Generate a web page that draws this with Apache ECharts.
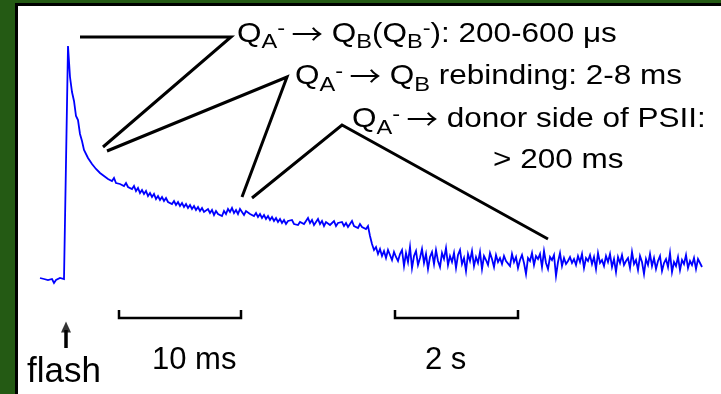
<!DOCTYPE html>
<html><head><meta charset="utf-8">
<script src="https://cdn.jsdelivr.net/npm/echarts@6/dist/echarts.min.js"></script>
<style>html,body{margin:0;padding:0;background:#245a14}#c{width:721px;height:394px}</style>
</head><body><div id="c"></div>
<script>
// Flash-induced signal (arbitrary units, pre-flash baseline ~0), one value per sample
const signal = [
 2,3,1,2,0,-1,1,-3,0,1,2,0,1,2,
 234,
 203,188,179,164,160,146,139,130,128,122,124,116,118,111,113,107,
 109,104,106,101,103,99,102,97,99,96,98,94,97,93,95,
 91,94,89,92,87,90,86,89,84,87,83,86,81,84,80,83,79,82,78,80,
 76,79,75,78,74,77,73,76,72,75,71,74,70,73,69,72,68,66,71,67,70,65,69,66,68,
 64,69,66,71,68,72,67,70,66,71,68,65,69,67,66,
 68,64,67,63,66,62,65,61,64,60,63,59,62,58,61,57,60,56,59,57,60,56,58,55,58,
 60,56,59,62,57,60,55,58,61,56,59,54,58,60,55,57,59,54,57,56,
 58,54,57,53,56,59,54,55,52,56,53,55,51,54,
 44,36,30,33,26,31,24,29,22,30,25,20,28,23,19,26,
 30,14,27,18,33,12,24,29,15,22,31,17,26,11,23,28,16,30,19,13,27,21,32,15,24,
 18,27,12,25,30,16,22,9,26,19,29,14,23,17,28,11,24,20,15,27,21,13,25,18,22,
 16,24,19,21,14,26,18,23,12,20,25,17,6,22,19,27,15,24,21,26,13,29,17,11,23,
 20,25,4,18,27,14,22,16,19,23,17,21,15,24,18,26,12,22,19,25,16,23,11,27,17,
 20,14,24,18,26,13,21,8,23,17,25,15,19,22,12,28,16,20,10,24,18,6,21,15,26,
 14,22,11,19,24,9,17,21,13,27,8,18,14,23,10,20,16,25,12,19,15,22,11,21,17,13
];
// Annotation pointer lines (sample index, signal units)
const pointerA = [[20,243],[95.5,243],[31.5,133]];
const pointerB = [[33.5,129],[123.5,203],[101,83]];
const pointerC = [[106,82],[151,155],[254,41]];
// Scale bars (sample index, signal units)
const bar10ms = [[39.5,-30],[39.5,-38],[100.5,-38],[100.5,-30]];
const bar2s = [[177.5,-30],[177.5,-38],[239,-38],[239,-30]];
const flashShaft = [[13,-68],[13,-50]];
const flashTip = [[13,-47]];

const labels1 = '{m|Q}{sub|A}{sup|-}{m|\u2009}{arr|\u2192}{m| Q}{sub|B}{m|(Q}{sub|B}{sup|-}{m|): 200-600 \u03bcs}';
const labels2 = '{m|Q}{sub|A}{sup|-}{m|\u2009}{arr|\u2192}{m| Q}{sub|B}{m| rebinding: 2-8 ms}';
const labels3 = '{m|Q}{sub|A}{sup|-}{m|\u2009}{arr|\u2192}{m| donor side of PSII:}';
const labels4 = '{m|> 200 ms}';

const FONT = '"Liberation Sans", Arial, sans-serif';
const rich = {
  m:   {fontSize:28, lineHeight:28, padding:[8,0,8,0], fontFamily:FONT, fill:'#000', color:'#000'},
  arr: {fontSize:28, lineHeight:28, padding:[8,0,8,0], fontFamily:'"Noto Sans CJK SC"', fill:'#000', color:'#000'},
  sub: {fontSize:21, lineHeight:21, padding:[20,0,3,0], fontFamily:FONT, fill:'#000', color:'#000'},
  sup: {fontSize:21, lineHeight:21, padding:[7,0,16,0], fontFamily:FONT, fill:'#000', color:'#000'}
};
function richText(txt, x, y){
  return {type:'text', x:x, y:y, z:100, scaleX:1.125, scaleY:1, style:{text:txt, rich:rich, fontFamily:FONT, fontSize:28, fill:'#000', verticalAlign:'top', align:'left'}};
}
function plainText(txt, x, baseline, size){
  return {type:'text', x:x, y:baseline - 0.3465*size, z:100, style:{text:txt, fontFamily:FONT, fontSize:size, fill:'#000', verticalAlign:'middle', align:'left'}};
}
function poly(data, width){
  return {type:'line', data:data, symbol:'none', silent:true, z:5, lineStyle:{color:'#000', width:width, cap:'butt', join:'miter'}, animation:false};
}

const chart = echarts.init(document.getElementById('c'));
chart.setOption({
  backgroundColor:'#245a14',
  animation:false,
  grid:{left:0, right:0, top:0, bottom:0},
  xAxis:{type:'value', min:-20, max:340.5, show:false},
  yAxis:{type:'value', min:-114, max:280, show:false},
  graphic:[
    {type:'rect', z:-10, shape:{x:16.5, y:4.5, width:720, height:400}, style:{fill:'#fff', stroke:'#000', lineWidth:3}},
    richText(labels1, 237, 20),
    richText(labels2, 295, 62.5),
    richText(labels3, 352, 105.5),
    richText(labels4, 493, 146.5),
    plainText('flash', 27, 384, 35),
    plainText('10 ms', 152, 371, 31),
    plainText('2 s', 425, 371, 31)
  ],
  series:[
    {type:'line', data:signal.map((v,i)=>[i,v]), symbol:'none', z:3, lineStyle:{color:'#0000ff', width:1.8, join:'miter'}, animation:false},
    poly(pointerA, 3), poly(pointerB, 3), poly(pointerC, 3),
    poly(bar10ms, 2.5), poly(bar2s, 2.5),
    poly(flashShaft, 3.5),
    {type:'scatter', data:flashTip, symbol:'triangle', symbolSize:[10,11], itemStyle:{color:'#000'}, z:5, silent:true, animation:false}
  ]
});
</script></body></html>
